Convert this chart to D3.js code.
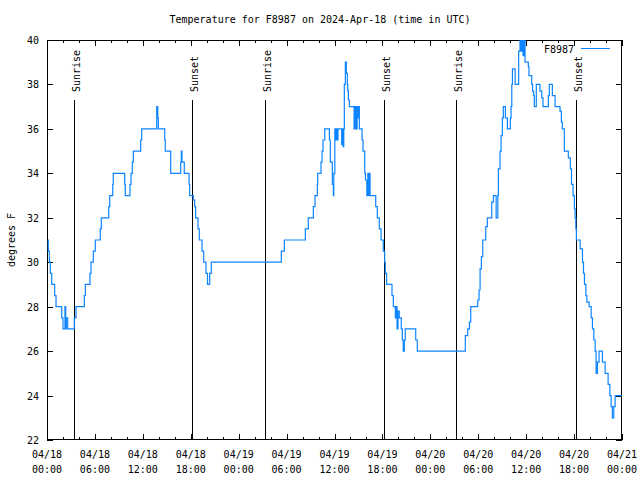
<!DOCTYPE html>
<html>
<head>
<meta charset="utf-8">
<script src="https://cdn.jsdelivr.net/npm/d3@7"></script>
<style>
  html, body { margin: 0; padding: 0; background: #fff; }
  svg { display: block; }
  text { font-family: "DejaVu Sans Mono", "Liberation Mono", monospace; font-size: 10px; fill: #000; }
</style>
</head>
<body>
<svg id="chart" width="640" height="480"></svg>
<script>
// ---- data ----
const titleText = "Temperature for F8987 on 2024-Apr-18 (time in UTC)";
const seriesName = "F8987";
const yLabel = "degrees F";
const startTime = Date.UTC(2024, 3, 18, 0, 0);
const endTime = Date.UTC(2024, 3, 21, 0, 0);
const yTicks = [22, 24, 26, 28, 30, 32, 34, 36, 38, 40];
// hours since 04/18 00:00 UTC
const hours = [
  0.09,0.16,0.29,0.41,0.59,0.96,1.13,1.84,2.00,2.25,2.34,2.42,2.59,3.42,3.63,4.67,4.80,5.38,5.51,5.80,
  6.05,6.67,6.80,7.73,7.85,8.23,8.30,9.73,9.80,10.39,10.52,10.68,10.81,11.73,11.86,13.74,13.87,13.94,14.74,14.81,
  15.49,16.74,16.82,16.90,17.19,17.79,17.87,18.32,18.49,18.61,18.91,19.07,19.41,19.62,19.91,20.10,20.37,20.57,29.34,29.72,
  32.35,32.72,33.35,33.56,33.85,33.90,34.31,34.44,34.56,34.78,35.36,35.48,35.73,35.86,35.91,36.04,36.16,36.25,36.35,36.44,
  36.90,36.98,37.07,37.16,37.23,37.36,37.48,37.61,37.66,37.74,37.86,38.45,38.58,38.70,38.83,38.95,39.01,39.11,39.45,39.57,
  39.79,39.87,40.05,40.17,40.25,40.33,40.45,41.16,41.36,41.61,41.83,42.11,42.28,42.36,42.53,43.20,43.37,43.62,43.70,43.83,
  43.95,44.11,44.36,44.49,44.61,44.74,44.86,46.17,46.37,52.38,52.68,52.89,53.06,53.94,54.10,54.23,54.39,54.56,54.94,55.14,
  55.69,55.90,56.24,56.45,56.52,56.73,56.86,57.02,57.14,57.40,57.65,58.02,58.11,58.20,58.28,58.62,59.06,59.23,59.36,59.48,
  59.61,59.73,59.86,60.27,60.35,60.69,60.81,60.94,61.02,61.27,61.73,61.95,62.11,62.78,62.90,63.28,63.62,64.24,64.41,64.53,
  64.78,65.28,65.53,65.68,65.87,66.04,66.13,66.22,66.29,66.76,67.05,67.18,67.30,67.48,67.60,67.89,68.14,68.30,68.47,68.64,
  68.76,68.92,69.13,69.55,69.89,70.26,70.48,70.64,70.79,70.97,71.14,72.00
];
const temps = [
  31,30.5,30,29.5,29,28.5,28,27.5,27,28,27,27.5,27,27.5,28,28.5,29,29.5,30,30.5,
  31,31.5,32,32.5,33,33.5,34,33.5,33,33.5,34,34.5,35,35.5,36,37,36.5,36,35.5,35,
  34,34.5,35,34.5,34,33.5,33,32.8,32.5,32,31.5,31,30.5,30,29.5,29,29.5,30,30.5,31,
  31.5,32,32.5,33,33.5,34,34.5,35,35.5,36,35.5,34.5,33.5,33,34,36,35.5,36,35.5,36,
  35.3,36,35.2,36,38,39,38.5,38,37.7,37.3,37,36,37,36,37,36.5,37,36,35.5,35,
  34,33.7,33,34,33,34,33,32.5,32,31.5,31,30.5,30,29.5,29,28.5,28,27.5,28,27,
  27.8,27.5,27,26.5,26,26.5,27,26.5,26,26.7,27,27.3,28,28.3,28.75,29.7,30.25,31,31.6,32,
  32.7,33,32,33,34.2,35,35.7,36.5,37,36.5,36,36.5,37,38,38.7,38,39.5,40.2,39.5,40.3,
  39.3,40.2,39,38.8,38.4,38,37.7,37.5,37,38,37.7,37.4,37,37.5,38,37.5,37,36.8,36.3,36,
  35,34.7,34.2,33.5,33,32.4,32,31.5,31,30.6,30,29.5,29,28.5,28.2,28,27.5,27,26.5,26,
  25,25.5,26,25.5,25,24.5,24,23.5,23,23.5,24,24
];
const sunHours = [3.42, 18.20, 27.34, 42.24, 51.22, 66.29];
const sunLabels = ["Sunrise", "Sunset", "Sunrise", "Sunset", "Sunrise", "Sunset"];

// ---- layout ----
const m = { left: 47, right: 622, top: 40, bottom: 440 };
const lineColor = "#0c84ff";

const svg = d3.select("#chart");
const toDate = h => new Date(startTime + h * 3600000);
const data = hours.map((h, i) => ({ t: toDate(h), v: temps[i] }));

const x = d3.scaleUtc().domain([new Date(startTime), new Date(endTime)]).range([m.left, m.right]);
const y = d3.scaleLinear().domain([22, 40]).range([m.bottom, m.top]);

const px = v => Math.round(v) + 0.5;

// ticks
const majorX = d3.utcHour.every(6).range(new Date(startTime), new Date(endTime + 1));
const minorX = d3.utcHour.every(2).range(new Date(startTime), new Date(endTime + 1));
const g = svg.append("g").attr("stroke", "#000").attr("stroke-width", 1).attr("shape-rendering", "crispEdges");
minorX.forEach(d => {
  const xx = px(x(d));
  const len = (d.getUTCHours() % 6 === 0) ? 6 : 3;
  g.append("line").attr("x1", xx).attr("x2", xx).attr("y1", m.bottom).attr("y2", m.bottom - len);
  g.append("line").attr("x1", xx).attr("x2", xx).attr("y1", m.top).attr("y2", m.top + len);
});
yTicks.forEach(v => {
  const yy = px(y(v));
  g.append("line").attr("x1", m.left).attr("x2", m.left + 6).attr("y1", yy).attr("y2", yy);
  g.append("line").attr("x1", m.right).attr("x2", m.right - 6).attr("y1", yy).attr("y2", yy);
});

// tick labels
const fmtD = d3.utcFormat("%m/%d"), fmtT = d3.utcFormat("%H:%M");
majorX.forEach(d => {
  svg.append("text").attr("x", x(d)).attr("y", 458).attr("text-anchor", "middle").text(fmtD(d));
  svg.append("text").attr("x", x(d)).attr("y", 473).attr("text-anchor", "middle").text(fmtT(d));
});
yTicks.forEach(v => {
  svg.append("text").attr("x", 39).attr("y", y(v) + 4).attr("text-anchor", "end").text(v);
});

// sunrise / sunset
sunHours.forEach((h, i) => {
  const xx = px(x(toDate(h)));
  g.append("line").attr("x1", xx).attr("x2", xx).attr("y1", 100).attr("y2", m.bottom);
  svg.append("text")
    .attr("transform", `translate(${xx + 5},92) rotate(-90)`)
    .attr("text-anchor", "start")
    .text(sunLabels[i]);
});

// data line
svg.append("clipPath").attr("id", "clip").append("rect")
  .attr("x", m.left).attr("y", m.top).attr("width", m.right - m.left).attr("height", m.bottom - m.top);
const line = d3.line().x(d => x(d.t)).y(d => y(d.v)).curve(d3.curveStepAfter);
svg.append("path").datum(data)
  .attr("clip-path", "url(#clip)")
  .attr("fill", "none").attr("stroke", lineColor).attr("stroke-width", 1.2)
  .attr("d", line);

// frame
g.append("rect").attr("x", m.left + 0.5).attr("y", m.top + 0.5)
  .attr("width", m.right - m.left - 1).attr("height", m.bottom - m.top - 1).attr("fill", "none");

// title, axis label, legend
svg.append("text").attr("x", 320).attr("y", 23).attr("text-anchor", "middle").text(titleText);
svg.append("text").attr("transform", "translate(15,240) rotate(-90)").attr("text-anchor", "middle").text(yLabel);
svg.append("text").attr("x", 574).attr("y", 53).attr("text-anchor", "end").text(seriesName);
svg.append("line").attr("x1", 581).attr("x2", 610).attr("y1", 48.5).attr("y2", 48.5)
  .attr("stroke", lineColor).attr("stroke-width", 1).attr("shape-rendering", "crispEdges");
</script>
</body>
</html>
